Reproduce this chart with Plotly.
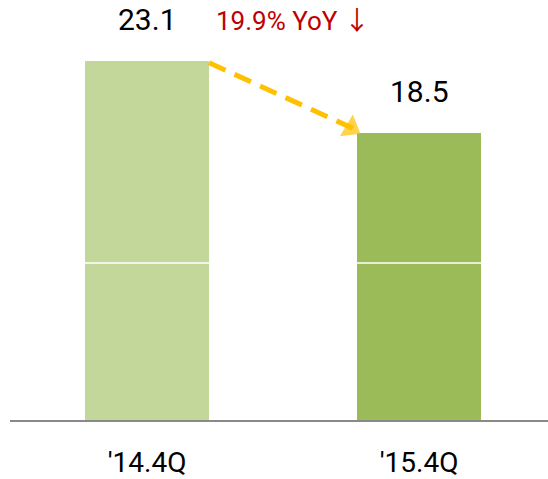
import plotly.graph_objects as go

# Quarterly totals
quarters = ["'14.4Q", "'15.4Q"]
values = [23.1, 18.5]
bar_colors = ["#C4D79B", "#9BBB59"]
change_label = "19.9% YoY <span style='font-family:Noto Sans CJK KR'>↓</span>"
divider_level = 10.1

FONT = "Roboto"

fig = go.Figure()
fig.add_trace(go.Bar(
    x=[0, 1], y=values, width=0.456,
    marker=dict(color=bar_colors, line=dict(width=0)),
    hoverinfo="skip", showlegend=False,
))

# Dashed trend arrow from the first bar's top corner to the second bar
x_from = 0.228
x_to = 0.77
y_to = values[1] + 0.17
fig.add_trace(go.Scatter(
    x=[x_from, x_to - 0.04, x_to], y=[values[0] - 0.1, y_to + 0.35, y_to],
    mode="lines", line=dict(color="#FFC000", width=5, dash="18px,10px"),
    hoverinfo="skip", showlegend=False,
))
fig.add_trace(go.Scatter(
    x=[x_to - 0.045, x_to - 0.02], y=[y_to + 0.38, y_to + 0.12],
    mode="markers",
    marker=dict(symbol="triangle-up", size=[0, 22], color="#FFC000",
                angleref="previous", line=dict(width=0)),
    hoverinfo="skip", showlegend=False,
))

annotations = []
for i, v in enumerate(values):
    annotations.append(dict(
        x=i, y=v, xref="x", yref="y", text=f"{v:.1f}", showarrow=False,
        yanchor="bottom", yshift=22,
        font=dict(family=FONT, size=30, color="#000000"),
    ))
annotations.append(dict(
    x=0.535, y=values[0], xref="x", yref="y", text=change_label, showarrow=False,
    yanchor="bottom", yshift=22,
    font=dict(family=FONT, size=26, color="#C00000"),
))

fig.update_layout(
    width=548, height=479,
    margin=dict(l=10, r=0, t=0, b=59, autoexpand=False),
    paper_bgcolor="white", plot_bgcolor="white",
    bargap=0,
    annotations=annotations,
    shapes=[dict(type="line", xref="paper", yref="y", x0=0, x1=1,
                 y0=divider_level, y1=divider_level,
                 line=dict(color="white", width=1.5), layer="above")],
    xaxis=dict(
        range=[-0.504, 1.474], tickvals=[0, 1], ticktext=quarters,
        showgrid=False, zeroline=False, showline=True,
        linecolor="#898989", linewidth=2, ticks="",
        automargin=False, ticklabelstandoff=16,
        tickfont=dict(family=FONT, size=28, color="#000000"),
    ),
    yaxis=dict(range=[0, 27.04], visible=False, showgrid=False, zeroline=False,
               automargin=False),
)

fig.write_html("out.html")
